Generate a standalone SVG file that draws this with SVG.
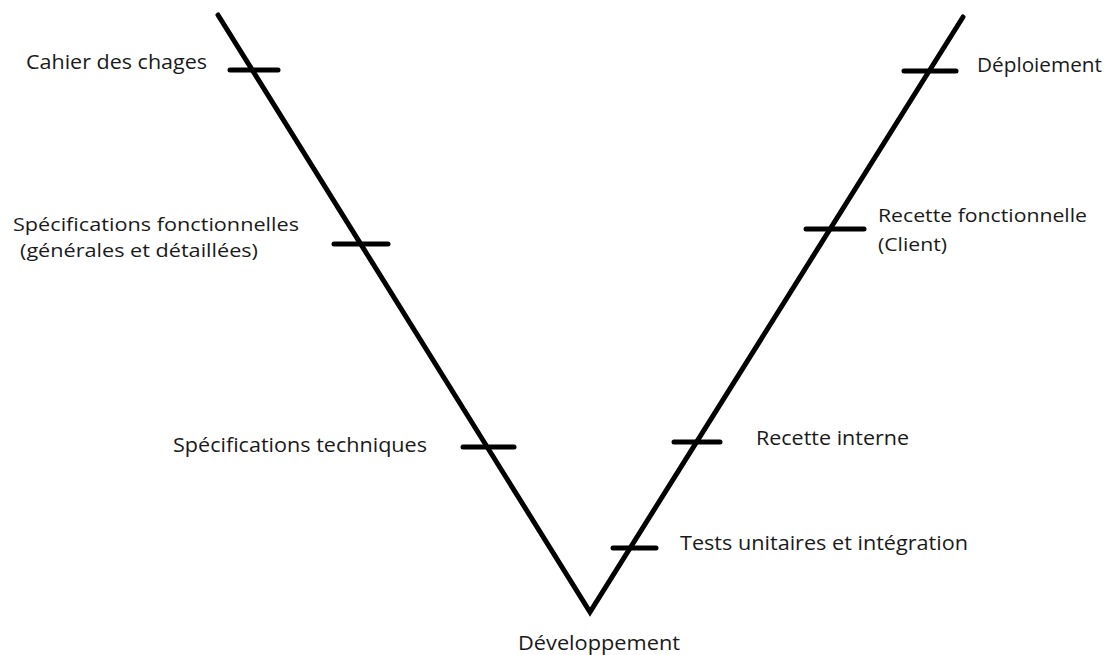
<svg xmlns="http://www.w3.org/2000/svg" width="1109" height="655" viewBox="0 0 1109 655">
  <style>
    .v { fill: none; stroke: #000; stroke-width: 5; stroke-linecap: round; stroke-linejoin: miter; }
    .tick { stroke: #000; stroke-width: 5; stroke-linecap: round; }
    .lbl { font-family: "Open Sans", "Liberation Sans", sans-serif; font-size: 20px; fill: #1a1a1a; }
    .lbl2 { font-family: "Open Sans", "Liberation Sans", sans-serif; font-size: 19px; fill: #1a1a1a; }
  </style>
  <rect width="1109" height="655" fill="#fff"/>

  <!-- the V shape -->
  <g id="connectors">
    <polyline class="v" points="218,15 590,612 963,17"/>
  </g>

  <!-- left branch: design phases -->
  <g id="cahier-des-charges">
    <line class="tick" x1="230" y1="70" x2="278" y2="70"/>
    <text class="lbl" x="26" y="69" textLength="181" lengthAdjust="spacingAndGlyphs">Cahier des chages</text>
  </g>
  <g id="specs-fonctionnelles">
    <line class="tick" x1="334" y1="244" x2="388" y2="244"/>
    <text class="lbl2" x="13" y="231" textLength="286" lengthAdjust="spacingAndGlyphs">Spécifications fonctionnelles</text>
    <text class="lbl2" x="20" y="257" textLength="238" lengthAdjust="spacingAndGlyphs">(générales et détaillées)</text>
  </g>
  <g id="specs-techniques">
    <line class="tick" x1="463" y1="447" x2="514" y2="447"/>
    <text class="lbl" x="173" y="452" textLength="254" lengthAdjust="spacingAndGlyphs">Spécifications techniques</text>
  </g>

  <!-- bottom -->
  <g id="developpement">
    <text class="lbl" x="518" y="650" textLength="162" lengthAdjust="spacingAndGlyphs">Développement</text>
  </g>

  <!-- right branch: validation phases -->
  <g id="tests-unitaires">
    <line class="tick" x1="613" y1="548" x2="656" y2="548"/>
    <text class="lbl" x="680" y="550" textLength="288" lengthAdjust="spacingAndGlyphs">Tests unitaires et intégration</text>
  </g>
  <g id="recette-interne">
    <line class="tick" x1="674" y1="442" x2="720" y2="442"/>
    <text class="lbl" x="756" y="445" textLength="153" lengthAdjust="spacingAndGlyphs">Recette interne</text>
  </g>
  <g id="recette-fonctionnelle">
    <line class="tick" x1="806" y1="229" x2="864" y2="229"/>
    <text class="lbl2" x="878" y="222" textLength="209" lengthAdjust="spacingAndGlyphs">Recette fonctionnelle</text>
    <text class="lbl2" x="878" y="251" textLength="69" lengthAdjust="spacingAndGlyphs">(Client)</text>
  </g>
  <g id="deploiement">
    <line class="tick" x1="904" y1="71" x2="956" y2="71"/>
    <text class="lbl" x="977" y="72" textLength="125" lengthAdjust="spacingAndGlyphs">Déploiement</text>
  </g>
</svg>
